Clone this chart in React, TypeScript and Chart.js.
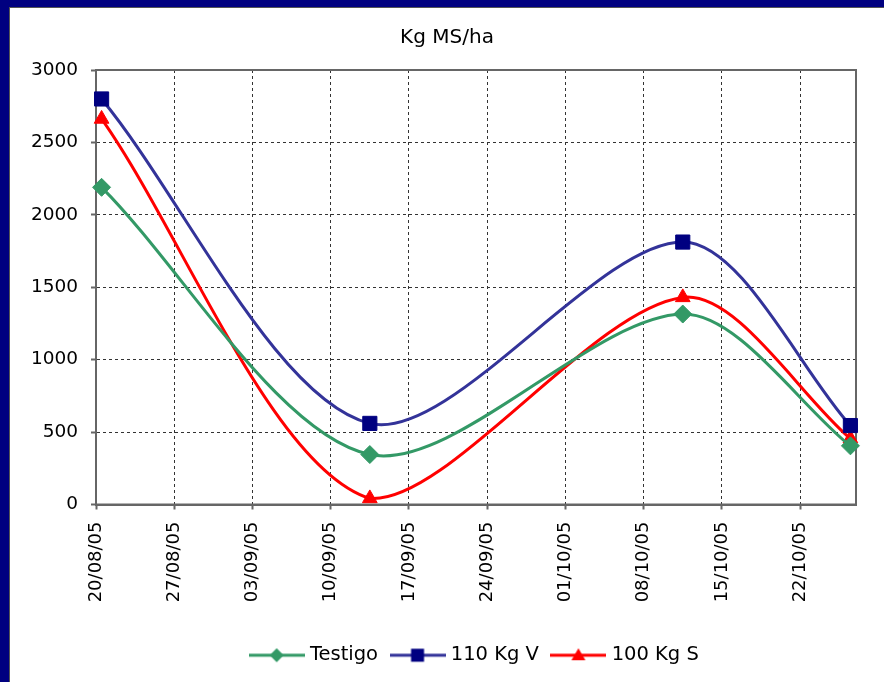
import React, { useEffect, useRef } from "react";
import { Chart, registerables } from "chart.js";

Chart.register(...registerables);

// Date axis limits and weekly tick dates
const axisStart = "2005-08-20";
const axisEnd = "2005-10-27";
const weekTicks = [
  "2005-08-20", "2005-08-27", "2005-09-03", "2005-09-10", "2005-09-17",
  "2005-09-24", "2005-10-01", "2005-10-08", "2005-10-15", "2005-10-22",
];

// Sampling dates and dry-matter values (kg MS/ha)
const cutDates = ["2005-08-20", "2005-09-13", "2005-10-11", "2005-10-26"];
const testigo = [2190, 345, 1315, 405];
const kg110V = [2800, 560, 1812, 545];
const kg100S = [2662, 42, 1430, 455];

const seriesNames = ["Testigo", "110 Kg V", "100 Kg S"];
const yMin = 0;
const yMax = 3000;
const yStep = 500;

const DAY = 86400000;
const toUTC = (iso: string) => {
  const [y, m, d] = iso.split("-").map(Number);
  return Date.UTC(y, m - 1, d);
};
const dayOf = (iso: string) => Math.round((toUTC(iso) - toUTC(axisStart)) / DAY);
const fmtDay = (n: number) => {
  const dt = new Date(toUTC(axisStart) + n * DAY);
  const dd = String(dt.getUTCDate()).padStart(2, "0");
  const mm = String(dt.getUTCMonth() + 1).padStart(2, "0");
  const yy = String(dt.getUTCFullYear() % 100).padStart(2, "0");
  return `${dd}/${mm}/${yy}`;
};

// A date axis puts each day's value in the middle of its day slot
const series = (vals: number[]) =>
  vals.map((v, i) => ({ x: dayOf(cutDates[i]) + 0.5, y: v }));

const FONT = "'DejaVu Sans', 'Liberation Sans', Arial, sans-serif";

type Marker = "diamond" | "square" | "triangle";

function legendIcon(line: string, fill: string, marker: Marker) {
  const c = document.createElement("canvas");
  c.width = 56;
  c.height = 18;
  const g = c.getContext("2d")!;
  g.strokeStyle = line;
  g.lineWidth = 3;
  g.beginPath();
  g.moveTo(0, 9);
  g.lineTo(56, 9);
  g.stroke();
  g.fillStyle = fill;
  g.beginPath();
  const cx = 28, cy = 9;
  if (marker === "diamond") {
    g.moveTo(cx, cy - 7);
    g.lineTo(cx + 7, cy);
    g.lineTo(cx, cy + 7);
    g.lineTo(cx - 7, cy);
  } else if (marker === "square") {
    g.rect(cx - 6.5, cy - 6.5, 13, 13);
  } else {
    g.moveTo(cx, cy - 7);
    g.lineTo(cx + 7, cy + 5);
    g.lineTo(cx - 7, cy + 5);
  }
  g.closePath();
  g.fill();
  return c;
}

const plotFrame = {
  id: "plotFrame",
  beforeDatasetsDraw(chart: any) {
    const { ctx, chartArea: a } = chart;
    ctx.save();
    ctx.strokeStyle = "#666666";
    ctx.lineWidth = 2;
    ctx.strokeRect(a.left, a.top, a.right - a.left, a.bottom - a.top);
    ctx.restore();
  },
};

const tickGrid = {
  color: "#333333",
  lineWidth: 1,
  tickLength: 5,
  tickColor: "#666666",
  tickWidth: 2,
  tickBorderDash: [],
};

export default function App() {
  const ref = useRef<HTMLCanvasElement | null>(null);

  useEffect(() => {
    if (!ref.current) return;
    const icons = [
      legendIcon("#339966", "#339966", "diamond"),
      legendIcon("#333399", "#000080", "square"),
      legendIcon("#FF0000", "#FF0000", "triangle"),
    ];

    const chart = new Chart(ref.current, {
      type: "line",
      data: {
        datasets: [
          {
            label: seriesNames[0],
            data: series(testigo),
            borderColor: "#339966",
            backgroundColor: "#339966",
            pointBackgroundColor: "#339966",
            pointBorderColor: "#339966",
            pointStyle: "rectRot",
            pointRadius: 9,
            pointBorderWidth: 1,
          },
          {
            label: seriesNames[1],
            data: series(kg110V),
            borderColor: "#333399",
            backgroundColor: "#000080",
            pointBackgroundColor: "#000080",
            pointBorderColor: "#000080",
            pointStyle: "rect",
            pointRadius: 10,
            pointBorderWidth: 1,
          },
          {
            label: seriesNames[2],
            data: series(kg100S),
            borderColor: "#FF0000",
            backgroundColor: "#FF0000",
            pointBackgroundColor: "#FF0000",
            pointBorderColor: "#FF0000",
            pointStyle: "triangle",
            pointRadius: 8.5,
            pointBorderWidth: 1,
          },
        ].map((d) => ({
          ...d,
          borderWidth: 3,
          tension: 0.3,
          fill: false,
          clip: false as any,
          pointHoverRadius: d.pointRadius,
        })),
      },
      options: {
        animation: false,
        responsive: false,
        events: [],
        layout: { padding: { left: 0, right: 0, top: 0, bottom: 7 } },
        plugins: {
          tooltip: { enabled: false },
          title: {
            display: true,
            text: "Kg MS/ha",
            color: "#000000",
            font: { family: FONT, size: 20, weight: "normal" },
            padding: { top: 18, bottom: 20 },
          },
          legend: {
            display: true,
            position: "bottom",
            fullSize: false,
            labels: {
              color: "#000000",
              font: { family: FONT, size: 19.5 },
              usePointStyle: true,
              pointStyleWidth: 47,
              padding: 16,
              generateLabels: (c: any) =>
                Chart.defaults.plugins.legend.labels
                  .generateLabels(c)
                  .map((it: any, i: number) => ({ ...it, pointStyle: icons[i] })),
            },
          },
        },
        scales: {
          x: {
            type: "linear",
            min: 0,
            max: dayOf(axisEnd),
            afterBuildTicks: (s: any) => {
              s.ticks = weekTicks.map((d) => ({ value: dayOf(d) }));
            },
            afterFit: (s: any) => {
              s.height = 125;
            },
            ticks: {
              autoSkip: false,
              maxRotation: 90,
              minRotation: 90,
              padding: 12,
              color: "#000000",
              font: { family: FONT, size: 18 },
              callback: (v: any) => fmtDay(Number(v)),
            },
            grid: tickGrid,
            border: { display: true, color: "#666666", width: 2, dash: [3, 3] },
          },
          y: {
            type: "linear",
            min: yMin,
            max: yMax,
            afterFit: (s: any) => {
              s.width = 86;
            },
            ticks: {
              stepSize: yStep,
              padding: 13,
              color: "#000000",
              font: { family: FONT, size: 18.5 },
              callback: (v: any) => String(v),
            },
            grid: tickGrid,
            border: { display: true, color: "#666666", width: 2, dash: [3, 3] },
          },
          // empty right-hand strip that keeps the plot clear of the frame edge
          yRight: {
            type: "linear",
            position: "right",
            display: true,
            min: yMin,
            max: yMax,
            afterFit: (s: any) => {
              s.width = 28;
            },
            ticks: { display: false },
            grid: { display: false, drawTicks: false },
            border: { display: false },
          },
        },
      },
      plugins: [plotFrame],
    } as any);

    return () => chart.destroy();
  }, []);

  return (
    <div
      style={{
        position: "fixed",
        left: 0,
        top: 0,
        width: 884,
        height: 682,
        background: "#000080",
        overflow: "hidden",
      }}
    >
      <div
        style={{
          position: "absolute",
          left: 9,
          top: 7,
          width: 875,
          height: 675,
          background: "#ffffff",
          borderLeft: "1px solid #555555",
          borderTop: "1px solid #555555",
          boxSizing: "border-box",
        }}
      />
      <canvas
        ref={ref}
        width={874}
        height={674}
        style={{ position: "absolute", left: 10, top: 8, width: 874, height: 674 }}
      />
    </div>
  );
}
